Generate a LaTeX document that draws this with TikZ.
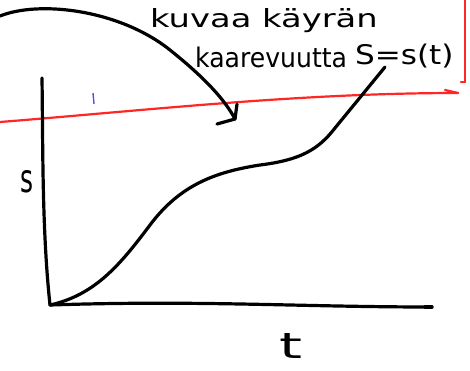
\documentclass[tikz,border=0pt]{standalone}
\usepackage{fontspec}
\setmainfont{DejaVu Sans}
\begin{document}
\begin{tikzpicture}[x=1pt,y=-1pt,
  ink/.style={line width=3.2pt,line cap=round,line join=round,black},
  redink/.style={line width=2.2pt,line cap=round,red!85!white},
  lbl/.style={inner sep=0pt,anchor=base west}]
\useasboundingbox[fill=white] (0,0) rectangle (470,370);
% red marks
\draw[redink] (0,122) .. controls (150,110) and (300,93) .. (458,93) coordinate (rEnd);
\draw[redink] (rEnd) -- (445,90);
\draw[redink] (465,0) -- (465,82) -- (461,82);
% blue tick
\draw[line width=1.4pt,blue!70] (93,93) -- (94,104);
% axes
\coordinate (O) at (50,305);
\coordinate (Ytop) at (42,78);
\coordinate (Xend) at (432,307);
\draw[ink] (Ytop) .. controls (43,150) and (42,230) .. (O);
\draw[ink] (O) .. controls (200,300) and (300,307) .. (Xend);
\draw[ink] (Xend) -- (425,307);
% curve s = s(t)
\coordinate (Cend) at (385,67);
\draw[ink] (O) .. controls (95,295) and (120,265) .. (150,225)
  .. controls (180,185) and (215,172) .. (260,165)
  .. controls (300,160) and (318,150) .. (335,128)
  -- (Cend);
% labels
\node[lbl] (s) at (20,192) {\resizebox{13pt}{22pt}{s}};
\node[lbl] (t) at (279,358) {\resizebox{23pt}{25pt}{t}};
\node[lbl] (l1) at (150,27) {\scalebox{1.35}[1]{\fontsize{25}{27}\selectfont kuvaa käyrän}};
\node[lbl] (l2) at (195,67) {\scalebox{0.93}[1]{\fontsize{27}{29}\selectfont kaarevuutta}};
\node[lbl] (l3) at (355,64) {\scalebox{1.15}[1]{\fontsize{27}{29}\selectfont S=s(t)}};
% big arc arrow
\coordinate (A0) at (0,16);
\coordinate (Tip) at (235,119);
\draw[ink] (A0) .. controls (40,0) and (120,10) .. (170,50)
  .. controls (205,78) and (225,100) .. (Tip);
\draw[ink] (237,104) -- (Tip) -- (217,124);
\end{tikzpicture}
\end{document}
